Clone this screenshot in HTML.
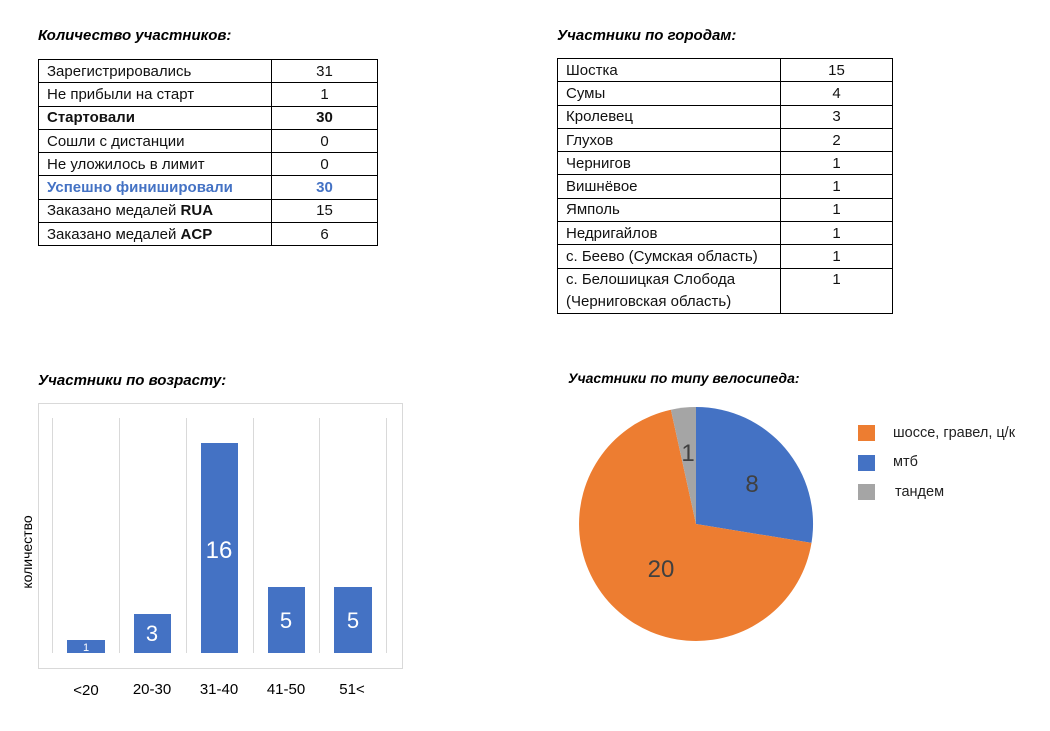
<!DOCTYPE html>
<html><head><meta charset="utf-8"><style>
body{margin:0;width:1050px;height:731px;background:#fff;font-family:"Liberation Sans","DejaVu Sans",sans-serif;position:relative;overflow:hidden}
.t{position:absolute;font-weight:bold;font-style:italic;font-size:15px;color:#000}
table{position:absolute;border-collapse:collapse;font-size:15px;color:#111}
td{border:1px solid #000;padding:0 0 0 8px;height:22.3px;line-height:17px}
td.n{text-align:center;padding:0}
</style></head><body>
<div class="t" style="left:38px;top:27px">Количество участников:</div>
<table style="left:38px;top:59px;width:340px">
<tr><td style="width:224px">Зарегистрировались</td><td class="n">31</td></tr>
<tr><td>Не прибыли на старт</td><td class="n">1</td></tr>
<tr><td><b>Стартовали</b></td><td class="n"><b>30</b></td></tr>
<tr><td>Сошли с дистанции</td><td class="n">0</td></tr>
<tr><td>Не уложилось в лимит</td><td class="n">0</td></tr>
<tr style="color:#4472c4;font-weight:bold"><td>Успешно финишировали</td><td class="n">30</td></tr>
<tr><td>Заказано медалей <b>RUA</b></td><td class="n">15</td></tr>
<tr><td>Заказано медалей <b>ACP</b></td><td class="n">6</td></tr>
</table>
<div class="t" style="left:557px;top:27px">Участники по городам:</div>
<table style="left:557px;top:58px;width:336px">
<tr><td style="width:214px">Шостка</td><td class="n">15</td></tr>
<tr><td>Сумы</td><td class="n">4</td></tr>
<tr><td>Кролевец</td><td class="n">3</td></tr>
<tr><td>Глухов</td><td class="n">2</td></tr>
<tr><td>Чернигов</td><td class="n">1</td></tr>
<tr><td>Вишнёвое</td><td class="n">1</td></tr>
<tr><td>Ямполь</td><td class="n">1</td></tr>
<tr><td>Недригайлов</td><td class="n">1</td></tr>
<tr><td>с. Беево (Сумская область)</td><td class="n">1</td></tr>
<tr><td style="vertical-align:top;height:44px;line-height:22px">с. Белошицкая Слобода<br>(Черниговская область)</td><td class="n" style="vertical-align:top;line-height:22px">1</td></tr>
</table>
<div class="t" style="left:38px;top:372px">Участники по возрасту:</div>
<div class="t" style="left:568px;top:370px;font-size:14px">Участники по типу велосипеда:</div>
<svg width="1050" height="731" style="position:absolute;left:0;top:0" font-family="Liberation Sans, DejaVu Sans, sans-serif">
<rect x="38.5" y="403.5" width="364" height="265" fill="none" stroke="#d9d9d9"/>
<g stroke="#d9d9d9">
<line x1="52.5" y1="418" x2="52.5" y2="653"/><line x1="119.5" y1="418" x2="119.5" y2="653"/><line x1="186.5" y1="418" x2="186.5" y2="653"/><line x1="253.5" y1="418" x2="253.5" y2="653"/><line x1="319.5" y1="418" x2="319.5" y2="653"/><line x1="386.5" y1="418" x2="386.5" y2="653"/>
</g>
<g fill="#4472c4">
<rect x="67" y="640" width="38" height="13"/><rect x="134" y="614" width="37" height="39"/><rect x="201" y="443" width="37" height="210"/><rect x="268" y="587" width="37" height="66"/><rect x="334" y="587" width="38" height="66"/>
</g>
<g fill="#fff" text-anchor="middle">
<text x="86" y="651" font-size="11">1</text><text x="152" y="641" font-size="22">3</text><text x="219" y="558" font-size="24">16</text><text x="286" y="628" font-size="22">5</text><text x="353" y="628" font-size="22">5</text>
</g>
<g fill="#000" text-anchor="middle" font-size="15">
<text x="86" y="695">&lt;20</text><text x="152" y="694">20-30</text><text x="219" y="694">31-40</text><text x="286" y="694">41-50</text><text x="352" y="694">51&lt;</text>
</g>
<text transform="translate(32,552) rotate(-90)" text-anchor="middle" font-size="14">количество</text>
<path d="M696,524 L696,407 A117,117 0 0 1 811.5,542.9 Z" fill="#4472c4"/>
<path d="M696,524 L811.5,542.9 A117,117 0 1 1 670.9,409.7 Z" fill="#ed7d31"/>
<path d="M696,524 L670.9,409.7 A117,117 0 0 1 696,407 Z" fill="#a5a5a5"/>
<g fill="#404040" font-size="24" text-anchor="middle">
<text x="688" y="461">1</text><text x="752" y="492">8</text><text x="661" y="577">20</text>
</g>
<rect x="858" y="425" width="17" height="16" fill="#ed7d31"/>
<rect x="858" y="455" width="17" height="16" fill="#4472c4"/>
<rect x="858" y="484" width="17" height="16" fill="#a5a5a5"/>
<g font-size="14.5" fill="#222"><text x="893" y="437">шоссе, гравел, ц/к</text><text x="893" y="466">мтб</text><text x="895" y="496">тандем</text></g>
</svg>
</body></html>
